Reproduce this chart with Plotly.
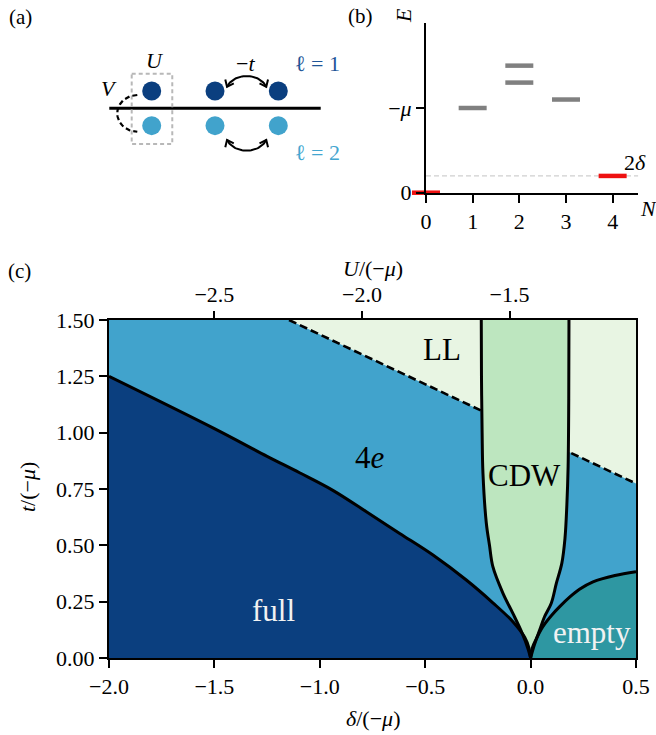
import numpy as np
import plotly.graph_objects as go

W, H = 656, 735
FONT = "Liberation Serif"

# ---------------- panel (b): energy levels ----------------
level_N = [0, 1, 2, 2, 3, 4]
level_E = [0.0, 1.0, 1.30, 1.50, 1.10, 0.198]
level_ground = [True, False, False, False, False, True]
two_delta = 0.198
b_xticks = [0, 1, 2, 3, 4]

# ---------------- panel (c): phase diagram ----------------
full_delta = [-2.0, -1.5, -1.25, -1.096, -0.938, -0.779, -0.621, -0.463, -0.305, -0.179, -0.084, -0.028, -0.008, 0.0]
full_t     = [1.25, 1.018, 0.895, 0.822, 0.744, 0.649, 0.553, 0.457, 0.346, 0.245, 0.161, 0.092, 0.045, 0.0]

cdwL_delta = [-0.234, -0.233, -0.230, -0.226, -0.210, -0.195, -0.179, -0.131, -0.084, -0.040, -0.012, 0.0]
cdwL_t     = [1.50, 1.25, 1.00, 0.82, 0.598, 0.50, 0.405, 0.287, 0.198, 0.11, 0.04, 0.0]

cdwR_delta = [0.0, 0.015, 0.043, 0.066, 0.098, 0.122, 0.148, 0.163, 0.172, 0.178, 0.181, 0.182]
cdwR_t     = [0.0, 0.05, 0.124, 0.183, 0.243, 0.331, 0.42, 0.53, 0.68, 0.85, 1.15, 1.50]

empty_delta = [0.0, 0.008, 0.027, 0.058, 0.10, 0.138, 0.185, 0.232, 0.296, 0.40, 0.5]
empty_t     = [0.0, 0.045, 0.085, 0.139, 0.19, 0.228, 0.27, 0.305, 0.338, 0.366, 0.383]

ll_delta = [-1.146, 0.5]
ll_t = [1.5, 0.774]

c_xticks = [-2.0, -1.5, -1.0, -0.5, 0.0, 0.5]
c_yticks = [0.0, 0.25, 0.5, 0.75, 1.0, 1.25, 1.5]
u_ticks = [-2.5, -2.0, -1.5]
# delta = 1.4*U + 2  ->  U = (delta - 2)/1.4
u_range = [(-2.0 - 2) / 1.4, (0.5 - 2) / 1.4]

region_labels = ["LL", "4<i>e</i>", "CDW", "full", "empty"]
region_delta = [-0.42, -0.76, -0.028, -1.22, 0.29]
region_t = [1.37, 0.89, 0.81, 0.213, 0.112]
region_color = ["black", "black", "black", "#f2f2f2", "#f2f2f2"]

# ---------------- panel (a): schematic ----------------
site_x = [0, 1, 2]
layer_y = [0.274, -0.274]

C_FULL = "#0b3f7f"
C_4E = "#41a3cc"
C_LL = "#e8f5e3"
C_CDW = "#bde6bf"
C_EMPTY = "#2e97a2"

fig = go.Figure()

def px(x):
    return x / W

def py(y):
    return 1 - y / H

# ======== panel (a) ========
A = dict(xaxis="x", yaxis="y", showlegend=False, hoverinfo="skip")
fig.add_trace(go.Scatter(x=[-0.67, 2.67], y=[0, 0], mode="lines",
                         line=dict(color="black", width=3), **A))
fig.add_trace(go.Scatter(x=[-0.316, 0.325, 0.325, -0.316, -0.316],
                         y=[0.545, 0.545, -0.565, -0.565, 0.545], mode="lines",
                         line=dict(color="#b8b8b8", width=2, dash="4px,3px"), **A))
th = np.linspace(np.pi / 2, 3 * np.pi / 2, 40)
fig.add_trace(go.Scatter(x=-0.2275 + 0.316 * np.cos(th), y=-0.08 + 0.29 * np.sin(th),
                         mode="lines", line=dict(color="black", width=2.2, dash="5px,3px"), **A))

def arc(cx, cy, rx, ry, sgn):
    t = np.linspace(np.deg2rad(160), np.deg2rad(20), 40)
    return cx + rx * np.cos(t), cy + sgn * ry * np.sin(t)

def head(tip, d, L=0.12, ang=np.deg2rad(38)):
    d = np.array(d) / np.linalg.norm(d)
    pts = []
    for s in (1, -1):
        c, sn = np.cos(s * ang), np.sin(s * ang)
        r = np.array([c * d[0] - sn * d[1], sn * d[0] + c * d[1]])
        pts.append(np.array(tip) - L * r)
    return [pts[0][0], tip[0], pts[1][0]], [pts[0][1], tip[1], pts[1][1]]

for cy, sgn in [(0.25, 1), (-0.41, -1)]:
    xs, ys = arc(1.5, cy, 0.33, 0.26, sgn)
    fig.add_trace(go.Scatter(x=xs, y=ys, mode="lines", line=dict(color="black", width=2), **A))
    t1, t2 = np.deg2rad(160), np.deg2rad(20)
    d1 = (-0.33 * np.sin(t1), sgn * 0.26 * np.cos(t1))
    d2 = (0.33 * np.sin(t2), -sgn * 0.26 * np.cos(t2))
    for tip, d in [((xs[0], ys[0]), d1), ((xs[-1], ys[-1]), d2)]:
        hx, hy = head(tip, d)
        fig.add_trace(go.Scatter(x=hx, y=hy, mode="lines", line=dict(color="black", width=2), **A))

fig.add_trace(go.Scatter(x=site_x, y=[layer_y[0]] * 3, mode="markers",
                         marker=dict(size=19, color=C_FULL), **A))
fig.add_trace(go.Scatter(x=site_x, y=[layer_y[1]] * 3, mode="markers",
                         marker=dict(size=19, color=C_4E), **A))

# ======== panel (b) ========
B = dict(xaxis="x2", yaxis="y2", showlegend=False, hoverinfo="skip")
fig.add_trace(go.Scatter(x=[0, 4.55], y=[two_delta, two_delta], mode="lines",
                         line=dict(color="#cfcfcf", width=1.2, dash="5px,3px"), **B))
fig.add_trace(go.Scatter(
    x=level_N, y=level_E, mode="markers", cliponaxis=False,
    marker=dict(symbol="line-ew", size=20,
                line=dict(width=4.5, color=["#ee1111" if g else "#808080" for g in level_ground])),
    **B))

# ======== panel (c) ========
Cc = dict(xaxis="x3", yaxis="y3", showlegend=False, hoverinfo="skip")
fig.add_trace(go.Scatter(x=ll_delta + [0.5, ll_delta[0]], y=ll_t + [1.5, 1.5],
                         fill="toself", fillcolor=C_LL, mode="none", **Cc))
fig.add_trace(go.Scatter(x=ll_delta, y=ll_t, mode="lines",
                         line=dict(color="black", width=2.6, dash="8px,4px"), **Cc))
fig.add_trace(go.Scatter(x=full_delta + [-2.0], y=full_t + [0.0],
                         fill="toself", fillcolor=C_FULL, mode="none", **Cc))
fig.add_trace(go.Scatter(x=empty_delta + [0.5], y=empty_t + [0.0],
                         fill="toself", fillcolor=C_EMPTY, mode="none", **Cc))
fig.add_trace(go.Scatter(x=cdwL_delta + cdwR_delta, y=cdwL_t + cdwR_t,
                         fill="toself", fillcolor=C_CDW, mode="none", **Cc))
for xs, ys in [(full_delta, full_t), (empty_delta, empty_t), (cdwL_delta, cdwL_t), (cdwR_delta, cdwR_t)]:
    fig.add_trace(go.Scatter(x=xs, y=ys, mode="lines",
                             line=dict(color="black", width=3, shape="spline", smoothing=1.0),
                             **Cc))
fig.add_trace(go.Scatter(x=[-2.0], y=[0.75], mode="markers", marker=dict(opacity=0),
                         xaxis="x4", yaxis="y3", showlegend=False, hoverinfo="skip"))

tickfont = dict(family=FONT, size=22, color="black")
axcommon = dict(showgrid=False, zeroline=False, showline=True, linecolor="black", linewidth=2,
                ticks="outside", ticklen=8, tickwidth=2, tickcolor="black", tickfont=tickfont,
                automargin=False)

fig.update_layout(
    width=W, height=H, margin=dict(l=0, r=0, t=0, b=0, autoexpand=False),
    paper_bgcolor="white", plot_bgcolor="rgba(0,0,0,0)",
    showlegend=False,
    xaxis=dict(domain=[0, 341 / W], range=[-2.3965, 2.9905], visible=False, anchor="y", automargin=False),
    yaxis=dict(domain=[py(200), 1], range=[-1.4487, 1.7109], visible=False, anchor="x", automargin=False),
    xaxis2=dict(domain=[px(426), px(638.3)], range=[0, 4.55], anchor="y2",
                tickvals=b_xticks, ticktext=[str(v) for v in b_xticks], **axcommon),
    yaxis2=dict(domain=[py(192.7), py(23.3)], range=[0, 2.0], anchor="x2",
                tickvals=[0, 1], ticktext=["0", "−<i>μ</i>"], **axcommon),
    xaxis3=dict(domain=[px(109), px(636)], range=[-2.0, 0.5], anchor="y3", mirror=True,
                tickvals=c_xticks, tickformat=".1f", **axcommon),
    yaxis3=dict(domain=[py(658), py(320)], range=[0, 1.5], anchor="x3", mirror=True,
                tickvals=c_yticks, tickformat=".2f", **axcommon),
    xaxis4=dict(overlaying="x3", side="top", anchor="y3", range=u_range, showgrid=False,
                zeroline=False, showline=False, ticks="outside", ticklen=8, tickwidth=2,
                tickcolor="black", tickfont=tickfont, tickvals=u_ticks, tickformat=".1f",
                automargin=False),
)

fig.add_shape(type="rect", xref="x3 domain", yref="y3 domain", x0=0, x1=1, y0=0, y1=1,
              fillcolor=C_4E, line=dict(width=0), layer="below")

ann = []
def text(x, y, s, size=22, color="black", xref="paper", yref="paper", angle=0, xanchor="center"):
    ann.append(dict(x=x, y=y, xref=xref, yref=yref, text=s, showarrow=False, textangle=angle,
                    xanchor=xanchor, yanchor="middle",
                    font=dict(family=FONT, size=size, color=color)))

text(px(20), py(17), "(a)", 21)
text(px(360), py(16), "(b)", 21)
text(px(19), py(271), "(c)", 21)
text(0.052, 0.75, "<i>U</i>", 22, xref="x", yref="y")
text(-0.67, 0.31, "<i>V</i>", 22, xref="x", yref="y")
text(1.474, 0.715, "−<i>t</i>", 22, xref="x", yref="y")
text(2.62, 0.715, "ℓ = 1", 22, color="#1f5597", xref="x", yref="y")
text(2.62, -0.705, "ℓ = 2", 22, color="#44a6d0", xref="x", yref="y")
text(px(403), py(16), "<i>E</i>", 22, angle=-90)
text(px(648), py(208), "<i>N</i>", 22)
text(4.47, 0.36, "2<i>δ</i>", 22, xref="x2", yref="y2")
text(px(372.5), py(718), "<i>δ</i>/(−<i>μ</i>)", 22)
text(px(372.5), py(268), "<i>U</i>/(−<i>μ</i>)", 22)
text(px(27), py(487), "<i>t</i>/(−<i>μ</i>)", 22, angle=-90)
for s, xd, yd, col in zip(region_labels, region_delta, region_t, region_color):
    text(xd, yd, s, 31, color=col, xref="x3", yref="y3")

fig.update_layout(annotations=ann)
fig.write_html("out.html")
